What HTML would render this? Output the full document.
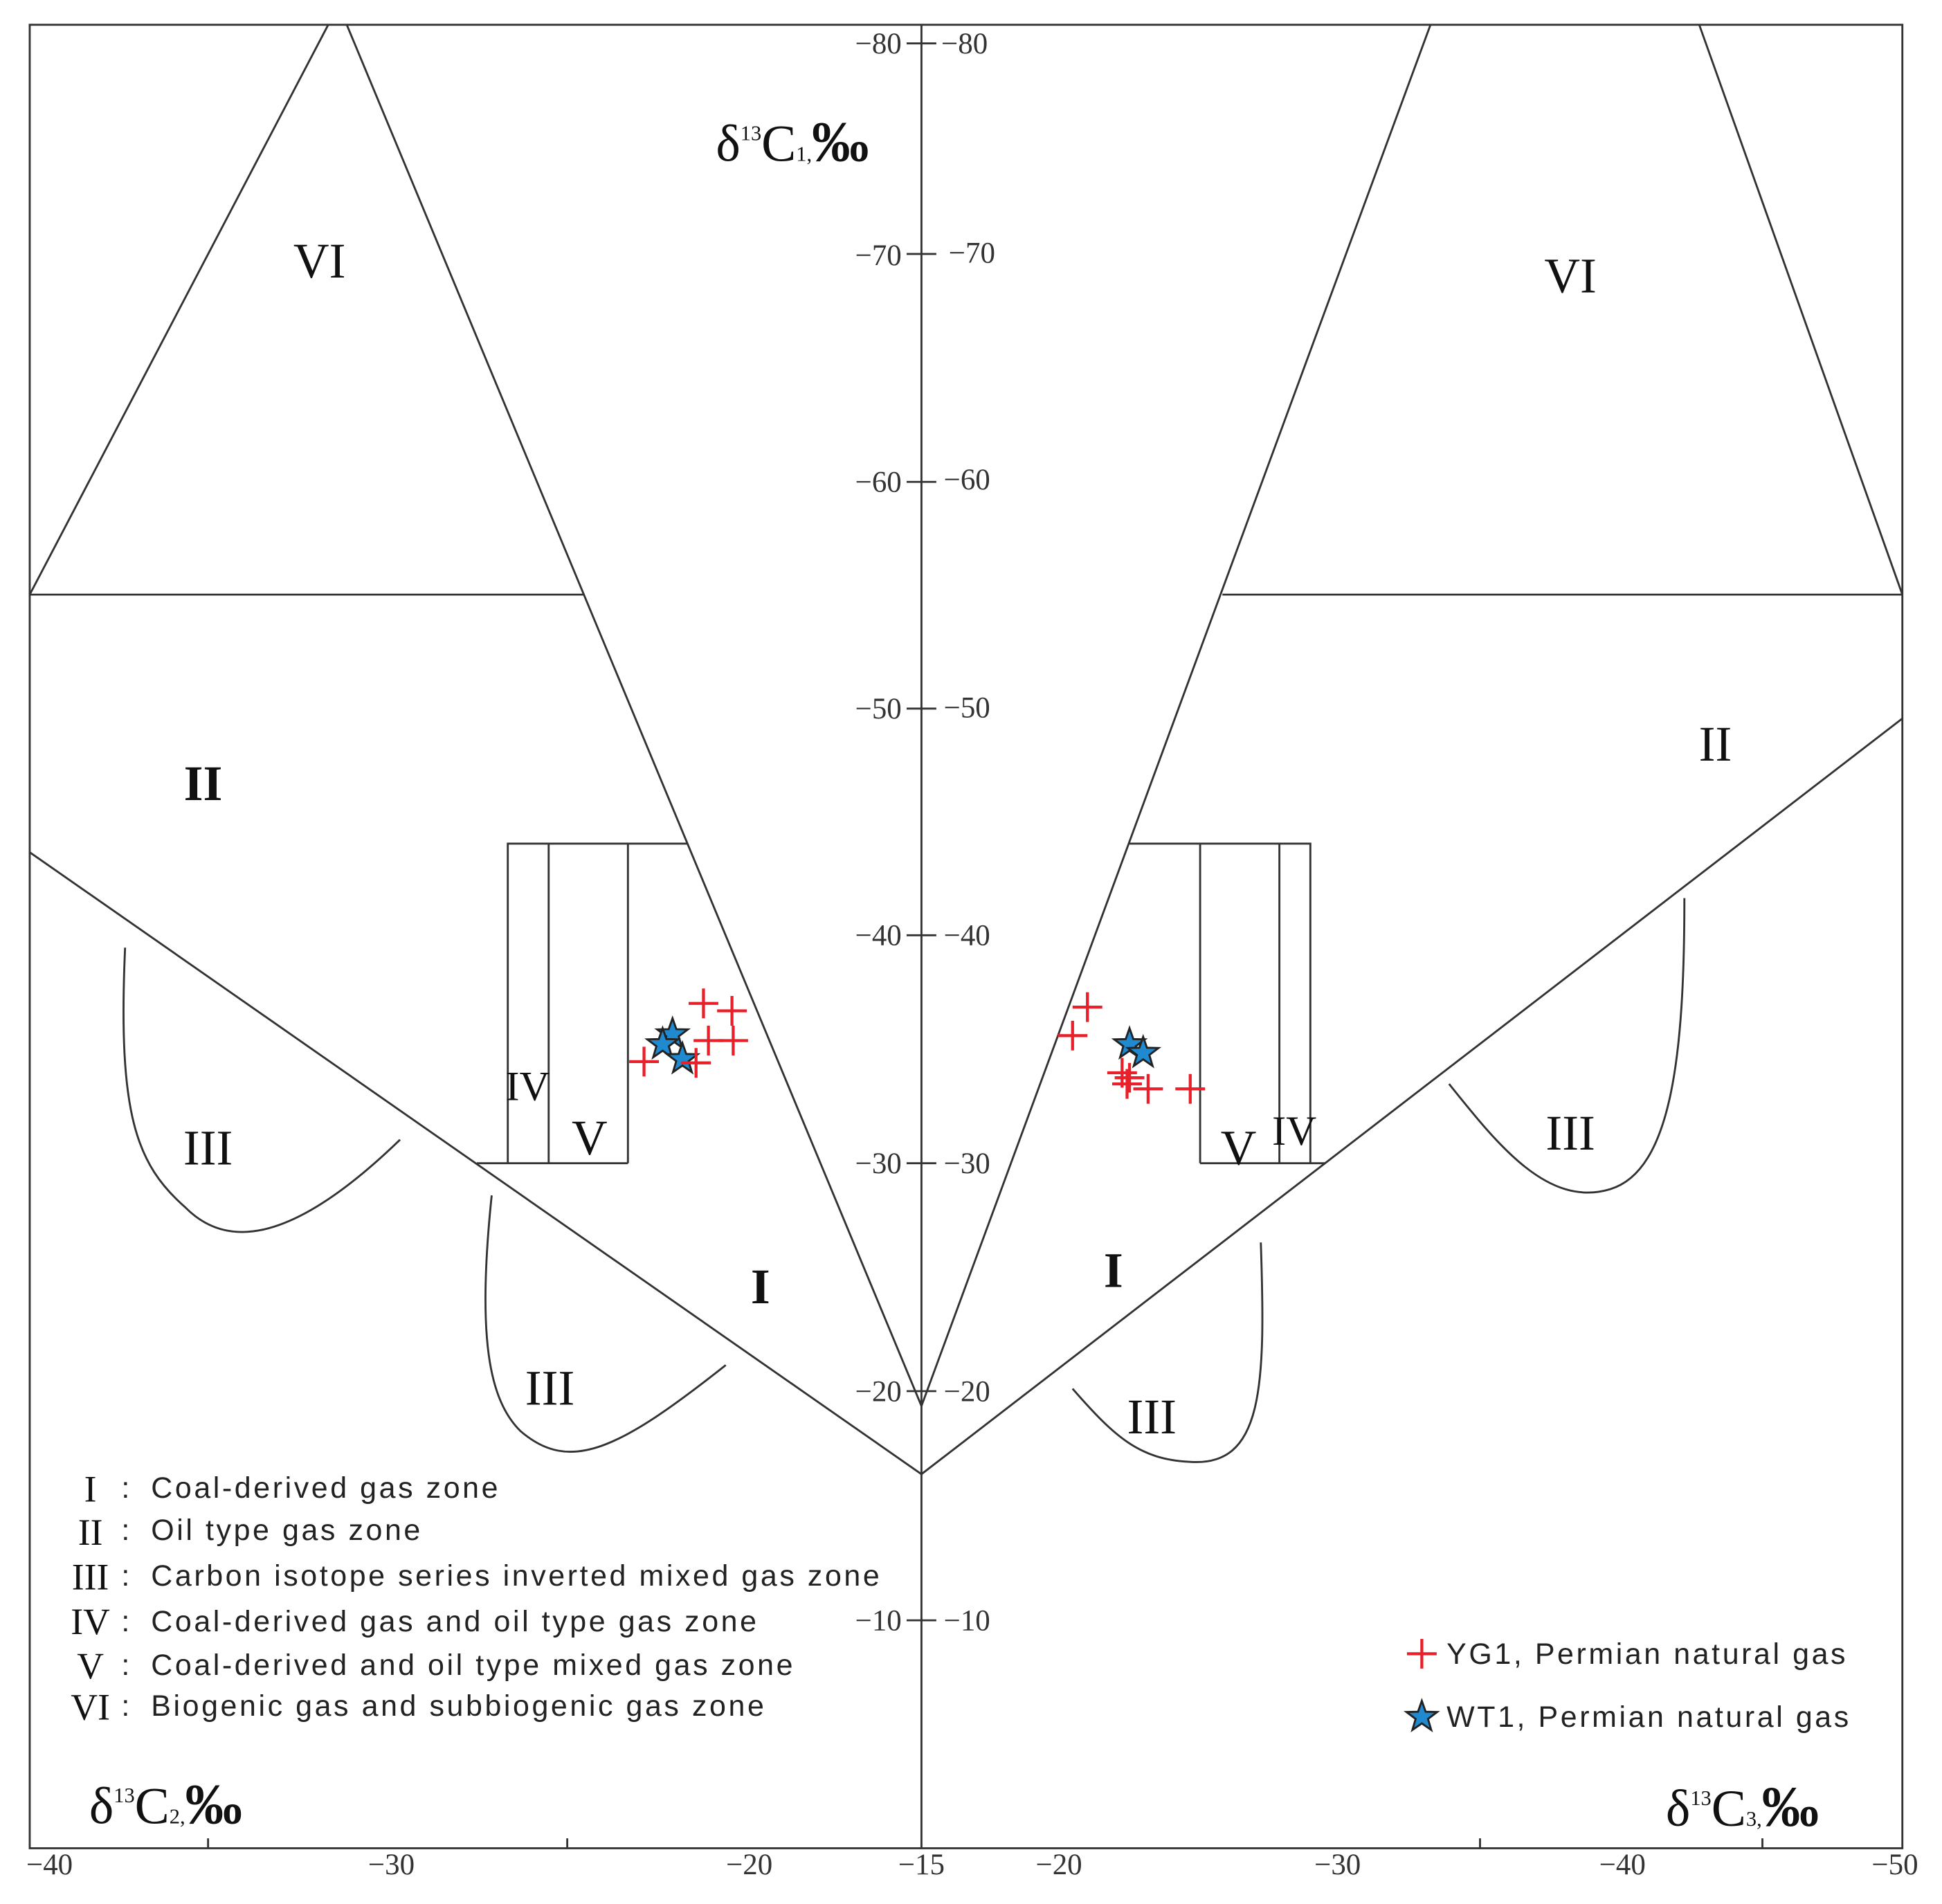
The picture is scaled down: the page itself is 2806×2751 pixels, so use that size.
<!DOCTYPE html>
<html><head><style>html,body{margin:0;padding:0;background:#fff}svg{display:block}</style></head><body>
<svg width="2806" height="2751" viewBox="0 0 1568 1537" preserveAspectRatio="none" xmlns="http://www.w3.org/2000/svg">
<defs>
<g id="cr"><path d="M-12,0H12M0,-12V12" stroke="#e8202a" stroke-width="2.4" fill="none"/></g>
<g id="st"><polygon points="0,-13 3.1,-4.2 12.4,-4 5,1.6 7.6,10.5 0,5.2 -7.6,10.5 -5,1.6 -12.4,-4 -3.1,-4.2" fill="#1f8ad0" stroke="#222" stroke-width="1.6"/></g>
</defs>
<g fill="none" stroke="#333" stroke-width="1.6">
<rect x="24" y="20" width="1512" height="1472"/>
<line x1="744" y1="20" x2="744" y2="1492"/>
<path d="M24,480 L265,20 M280,20 L744,1135 L1155,20 M1372,20 L1536,480"/>
<path d="M24,480 H472 M987,480 H1536"/>
<path d="M24,688 L744,1190 L1536,580"/>
<path d="M410,939 V681 H555 M443,681 V939 M507,681 V939 M385,939 H507"/>
<path d="M969,939 V681 H1058 V939 M1033,681 V939 M912,681 H969 M969,939 H1070"/>
<path d="M101,765 C95,900 110,940 150,975 C180,1005 230,1010 323,920"/>
<path d="M397,965 C385,1080 395,1130 420,1155 C460,1190 500,1170 586,1102"/>
<path d="M1170,875 C1210,925 1250,975 1300,960 C1350,945 1360,850 1360,725"/>
<path d="M866,1121 C900,1160 920,1178 960,1180 C1020,1185 1022,1120 1018,1003"/>
<path d="M732,35H756M732,205H756M732,389H756M732,572H756M732,755H756M732,939H756M732,1123H756M732,1308H756"/>
<path d="M168,1484V1492M458,1484V1492M1195,1484V1492M1423,1484V1492"/>
</g>
<g font-family="Liberation Serif, serif" font-size="24" fill="#333">
<g text-anchor="end">
<text x="728" y="43">−80</text><text x="728" y="214">−70</text><text x="728" y="397">−60</text><text x="728" y="580">−50</text><text x="728" y="763">−40</text><text x="728" y="947">−30</text><text x="728" y="1131">−20</text><text x="728" y="1316">−10</text>
</g>
<g>
<text x="760" y="43">−80</text><text x="766" y="212">−70</text><text x="762" y="395">−60</text><text x="762" y="579">−50</text><text x="762" y="763">−40</text><text x="762" y="947">−30</text><text x="762" y="1131">−20</text><text x="762" y="1316">−10</text>
</g>
<g text-anchor="middle">
<text x="40" y="1513">−40</text><text x="316" y="1513">−30</text><text x="605" y="1513">−20</text><text x="744" y="1513">−15</text><text x="855" y="1513">−20</text><text x="1080" y="1513">−30</text><text x="1310" y="1513">−40</text><text x="1530" y="1513">−50</text>
</g>
<g font-size="40" text-anchor="middle" fill="#111">
<text x="258" y="224">VI</text><text x="1268" y="236">VI</text>
<text x="164" y="646" font-weight="bold">II</text><text x="1385" y="614">II</text>
<text x="168" y="940">III</text><text x="444" y="1134">III</text><text x="1268" y="928">III</text><text x="930" y="1157">III</text>
<text x="614" y="1052" font-weight="bold">I</text><text x="899" y="1039" font-weight="bold">I</text>
<text x="476" y="932">V</text><text x="1000" y="940">V</text>
<text x="426" y="888" font-size="34">IV</text><text x="1045" y="924" font-size="34">IV</text>
</g>
<g font-size="42" fill="#111">
<text x="578" y="130">δ<tspan font-size="17" dy="-17">13</tspan><tspan dy="17">C</tspan><tspan font-size="17">1,</tspan><tspan font-weight="bold" font-size="46">‰</tspan></text>
<text x="72" y="1472">δ<tspan font-size="17" dy="-17">13</tspan><tspan dy="17">C</tspan><tspan font-size="17">2,</tspan><tspan font-weight="bold" font-size="46">‰</tspan></text>
<text x="1345" y="1474">δ<tspan font-size="17" dy="-17">13</tspan><tspan dy="17">C</tspan><tspan font-size="17">3,</tspan><tspan font-weight="bold" font-size="46">‰</tspan></text>
</g>
<g font-size="30" fill="#111" text-anchor="middle">
<text x="73" y="1212">I</text><text x="73" y="1247">II</text><text x="73" y="1283">III</text><text x="73" y="1319">IV</text><text x="73" y="1355">V</text><text x="73" y="1388">VI</text>
</g>
<g font-family="Liberation Sans, sans-serif" font-size="24" letter-spacing="2" fill="#222">
<text x="98" y="1209">:</text><text x="98" y="1243">:</text><text x="98" y="1280">:</text><text x="98" y="1317">:</text><text x="98" y="1352">:</text><text x="98" y="1385">:</text>
<text x="122" y="1209">Coal-derived gas zone</text>
<text x="122" y="1243">Oil type gas zone</text>
<text x="122" y="1280">Carbon isotope series inverted mixed gas zone</text>
<text x="122" y="1317">Coal-derived gas and oil type gas zone</text>
<text x="122" y="1352">Coal-derived  and oil type mixed gas zone</text>
<text x="122" y="1385">Biogenic gas and subbiogenic gas zone</text>
<text x="1168" y="1343">YG1,  Permian natural gas</text>
<text x="1168" y="1394">WT1,  Permian natural gas</text>
</g>
</g>
<use href="#cr" x="1148" y="1335"/>
<use href="#st" x="1148" y="1386"/>
<use href="#cr" x="568" y="810"/><use href="#cr" x="591" y="816"/><use href="#cr" x="572" y="840"/><use href="#cr" x="592" y="840"/><use href="#cr" x="520" y="857"/>
<use href="#st" x="543" y="835"/><use href="#st" x="535" y="843"/><use href="#st" x="551" y="855"/>
<use href="#cr" x="562" y="858"/>
<use href="#cr" x="878" y="813"/><use href="#cr" x="866" y="836"/><use href="#cr" x="906" y="866"/><use href="#cr" x="912" y="870"/><use href="#cr" x="927" y="879"/><use href="#cr" x="961" y="879"/><use href="#cr" x="910" y="875"/>
<use href="#st" x="912" y="843"/><use href="#st" x="923" y="850"/>
</svg>
</body></html>
